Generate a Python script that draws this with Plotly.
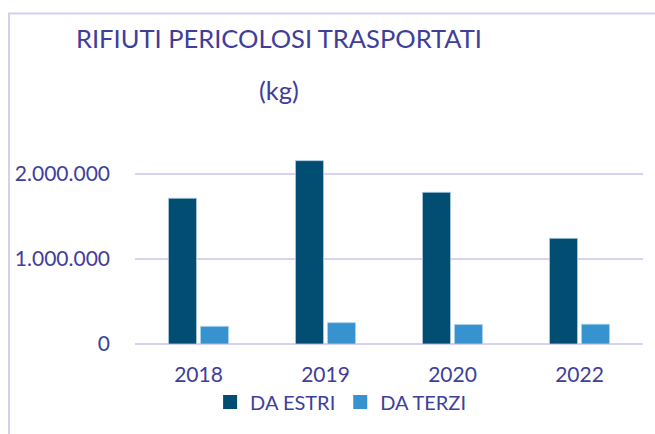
import plotly.graph_objects as go

years = ["2018", "2019", "2020", "2022"]
da_estri = [1710000, 2152000, 1780000, 1240000]
da_terzi = [207000, 250000, 228000, 232000]
series_names = ["DA ESTRI", "DA TERZI"]

TXT = "#403E9B"
GRID = "#D6D2F0"
C_DARK = "#024E73"
C_LIGHT = "#3693CF"
W, H = 655, 434
ML, MR, MT, MB = 135, 12, 131, 90

fig = go.Figure()
fig.add_trace(go.Bar(name=series_names[0], x=years, y=da_estri, showlegend=False,
                     marker=dict(color=C_DARK, line=dict(color="#A9C9DE", width=0.8))))
fig.add_trace(go.Bar(name=series_names[1], x=years, y=da_terzi, showlegend=False,
                     marker=dict(color=C_LIGHT, line=dict(color="#A9D2EE", width=0.8))))
# legend entries with larger square swatches
for nm, col in zip(series_names, [C_DARK, C_LIGHT]):
    fig.add_trace(go.Scatter(name=nm, x=[None], y=[None], mode="markers",
                             marker=dict(symbol="square", size=14, color=col),
                             showlegend=True))

pw = W - ML - MR
ph = H - MT - MB
def px2paper_x(px):
    return (px - ML) / pw
def px2paper_y(py):
    return (H - MB - py) / ph

fig.update_layout(
    width=W, height=H,
    margin=dict(l=ML, r=MR, t=MT, b=MB, autoexpand=False),
    paper_bgcolor="white", plot_bgcolor="white",
    separators=",.",
    barmode="group", bargap=0.496, bargroupgap=0.125,
    font=dict(family="Lato", color=TXT, size=18),
    showlegend=True,
    legend=dict(orientation="h", xref="container", yref="container",
                x=0.52, y=1 - 402 / 434, xanchor="center", yanchor="middle",
                font=dict(size=20, color=TXT), itemwidth=30, traceorder="normal",
                bgcolor="rgba(0,0,0,0)"),
    xaxis=dict(showgrid=False, showline=False, ticks="", ticklabelstandoff=16,
               automargin=False, tickfont=dict(size=21, color=TXT)),
    yaxis=dict(range=[0, 2500000], dtick=1000000, tickformat=",.0f",
               showgrid=True, gridcolor=GRID, gridwidth=2,
               zeroline=True, zerolinecolor=GRID, zerolinewidth=2,
               showline=False, ticks="", ticklabelstandoff=24, automargin=False,
               tickfont=dict(size=21, color=TXT)),
    annotations=[
        dict(text="RIFIUTI PERICOLOSI TRASPORTATI", xref="paper", yref="paper",
             x=px2paper_x(279), y=px2paper_y(38), xanchor="center", yanchor="middle",
             showarrow=False, font=dict(size=25.5, color=TXT, family="Lato")),
        dict(text="(kg)", xref="paper", yref="paper",
             x=px2paper_x(279), y=px2paper_y(90), xanchor="center", yanchor="middle",
             showarrow=False, font=dict(size=25.5, color=TXT, family="Lato")),
    ],
    shapes=[
        dict(type="rect", xref="paper", yref="paper",
             x0=px2paper_x(9), y0=px2paper_y(470), x1=px2paper_x(700), y1=px2paper_y(13.5),
             line=dict(color="#D3CFF2", width=2), fillcolor="rgba(0,0,0,0)", layer="below"),
    ],
)

fig.write_html("out.html", config={"displayModeBar": False},
               post_script="document.body.style.margin='0';document.body.style.overflow='hidden';document.documentElement.style.overflow='hidden';")
